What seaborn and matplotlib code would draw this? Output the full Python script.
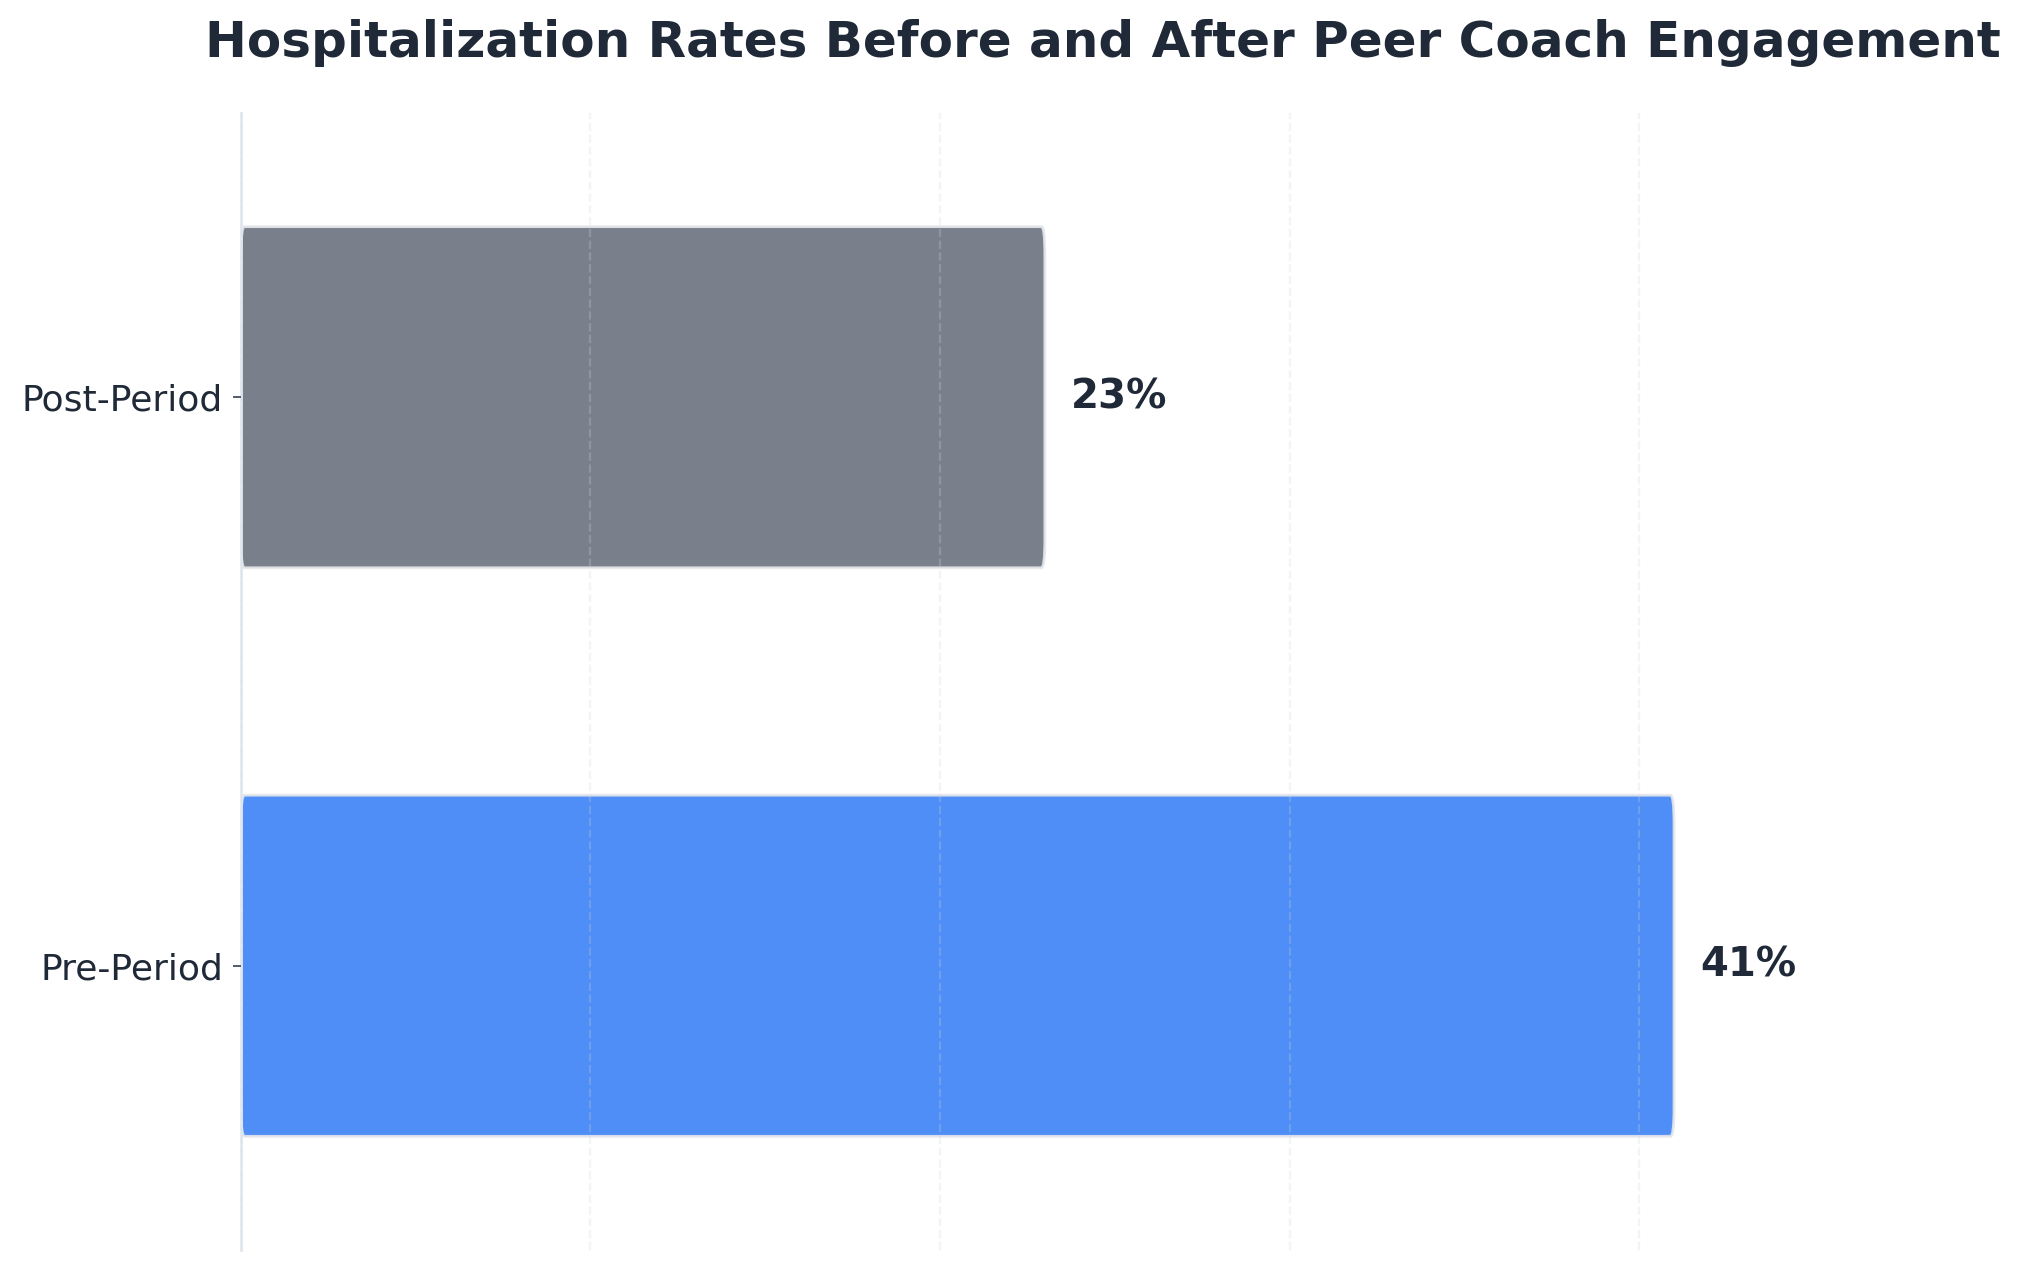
import matplotlib
matplotlib.use("Agg")
import matplotlib.pyplot as plt
from matplotlib.patches import FancyBboxPatch
import seaborn as sns
import pandas as pd

# Data
categories = ["Pre-Period", "Post-Period"]
rates = [41, 23]
bar_colors = ["#3B82F6", "#6B7280"]
title = "Hospitalization Rates Before and After Peer Coach Engagement"

sns.set_theme(style="white")
plt.rcParams["font.family"] = ["DejaVu Sans"]

df = pd.DataFrame({"Period": categories, "Rate": rates})
order = categories[::-1]
palette = dict(zip(categories, bar_colors))

fig = plt.figure(figsize=(10.09, 6.34), dpi=200)
ax = fig.add_axes([0.1194, 0.0142, 0.9737 - 0.1194, 0.9109 - 0.0142])

sns.barplot(data=df, y="Period", x="Rate", hue="Period", order=order,
            palette=palette, orient="h", width=0.6, legend=False, ax=ax,
            saturation=1)

ax.set_xlim(0, max(rates) * 1.203)

# Replace bars with rounded versions
for patch in list(ax.patches):
    x0, y0 = patch.get_x(), patch.get_y()
    w, h = patch.get_width(), patch.get_height()
    fc = patch.get_facecolor()
    patch.remove()
    fb = FancyBboxPatch((x0, y0), w, h,
                        boxstyle="round,pad=0,rounding_size=0.1",
                        mutation_aspect=0.5,
                        facecolor=fc[:3], alpha=0.9,
                        edgecolor="#e5e7eb", linewidth=1.0, zorder=2)
    ax.add_patch(fb)

# Value labels
ypos = {c: i for i, c in enumerate(order)}
for c, v in zip(categories, rates):
    ax.text(v + 0.75, ypos[c], f"{v}%", va="center", ha="left",
            fontsize=14.5, fontweight="bold", color="#1f2937", zorder=4)

# Grid
ax.set_axisbelow(False)
ax.xaxis.grid(True, linestyle="--", color="#d1d5db", alpha=0.25, linewidth=0.8, zorder=3)
ax.yaxis.grid(False)

ax.set_xlabel("")
ax.set_ylabel("")
ax.tick_params(axis="x", bottom=False, labelbottom=False)
ax.tick_params(axis="y", left=True, length=3, width=0.6, color="#374151",
               labelsize=13, labelcolor="#1f2937", pad=3.5)

for s in ["top", "right", "bottom"]:
    ax.spines[s].set_visible(False)
ax.spines["left"].set_color("#e2e8f0")
ax.spines["left"].set_linewidth(1.0)

ax.set_title(title, fontsize=18, fontweight="bold", color="#1f2937", pad=20)

fig.savefig("out.png", dpi=200, facecolor="white")
